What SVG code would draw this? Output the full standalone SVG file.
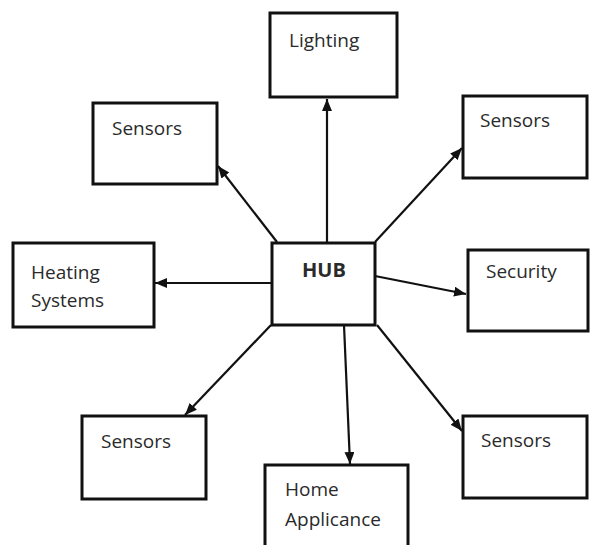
<svg xmlns="http://www.w3.org/2000/svg" width="591" height="545" viewBox="0 0 591 545">
  <style>
    .box { fill: #fff; stroke: #111; stroke-width: 3; }
    .lbl { font-family: "Open Sans", "Noto Sans", "Liberation Sans", sans-serif; font-size: 19px; fill: #2a2a2a; }
    .hub { font-weight: bold; font-size: 20px; }
    .wire { stroke: #111; stroke-width: 2.2; fill: none; marker-end: url(#arrow); }
  </style>
  <defs>
    <marker id="arrow" markerUnits="userSpaceOnUse" markerWidth="13" markerHeight="11" refX="12" refY="5" orient="auto">
      <path d="M0,0 L12,5 L0,10 z" fill="#111"/>
    </marker>
  </defs>
  <rect width="591" height="545" fill="#fff"/>

  <g id="connectors">
    <line class="wire" x1="327" y1="243" x2="327" y2="99"/>
    <line class="wire" x1="277" y1="242" x2="218" y2="166"/>
    <line class="wire" x1="375" y1="242" x2="462" y2="148"/>
    <line class="wire" x1="272" y1="283" x2="155" y2="283"/>
    <line class="wire" x1="375" y1="276" x2="466" y2="294"/>
    <line class="wire" x1="271" y1="325" x2="185" y2="415"/>
    <line class="wire" x1="344" y1="325" x2="350" y2="464"/>
    <line class="wire" x1="377" y1="325" x2="462" y2="431"/>
  </g>

  <g id="lighting">
    <rect class="box" x="270" y="13" width="127" height="84"/>
    <text class="lbl" x="289" y="47">Lighting</text>
  </g>
  <g id="sensors-top-left">
    <rect class="box" x="93" y="103" width="124" height="81"/>
    <text class="lbl" x="112" y="135">Sensors</text>
  </g>
  <g id="sensors-top-right">
    <rect class="box" x="463" y="96" width="124" height="82"/>
    <text class="lbl" x="480" y="127">Sensors</text>
  </g>
  <g id="heating">
    <rect class="box" x="13" y="243" width="141" height="84"/>
    <text class="lbl" x="31" y="279">Heating</text>
    <text class="lbl" x="31" y="307">Systems</text>
  </g>
  <g id="hub">
    <rect class="box" x="272" y="243" width="103" height="82"/>
    <text class="lbl hub" x="302" y="277">HUB</text>
  </g>
  <g id="security">
    <rect class="box" x="468" y="250" width="120" height="81"/>
    <text class="lbl" x="486" y="278">Security</text>
  </g>
  <g id="sensors-bottom-left">
    <rect class="box" x="82" y="416" width="124" height="83"/>
    <text class="lbl" x="101" y="448">Sensors</text>
  </g>
  <g id="home-appliance">
    <rect class="box" x="265" y="465" width="143" height="95"/>
    <text class="lbl" x="285" y="496">Home</text>
    <text class="lbl" x="285" y="526">Applicance</text>
  </g>
  <g id="sensors-bottom-right">
    <rect class="box" x="463" y="416" width="124" height="82"/>
    <text class="lbl" x="481" y="447">Sensors</text>
  </g>
</svg>
